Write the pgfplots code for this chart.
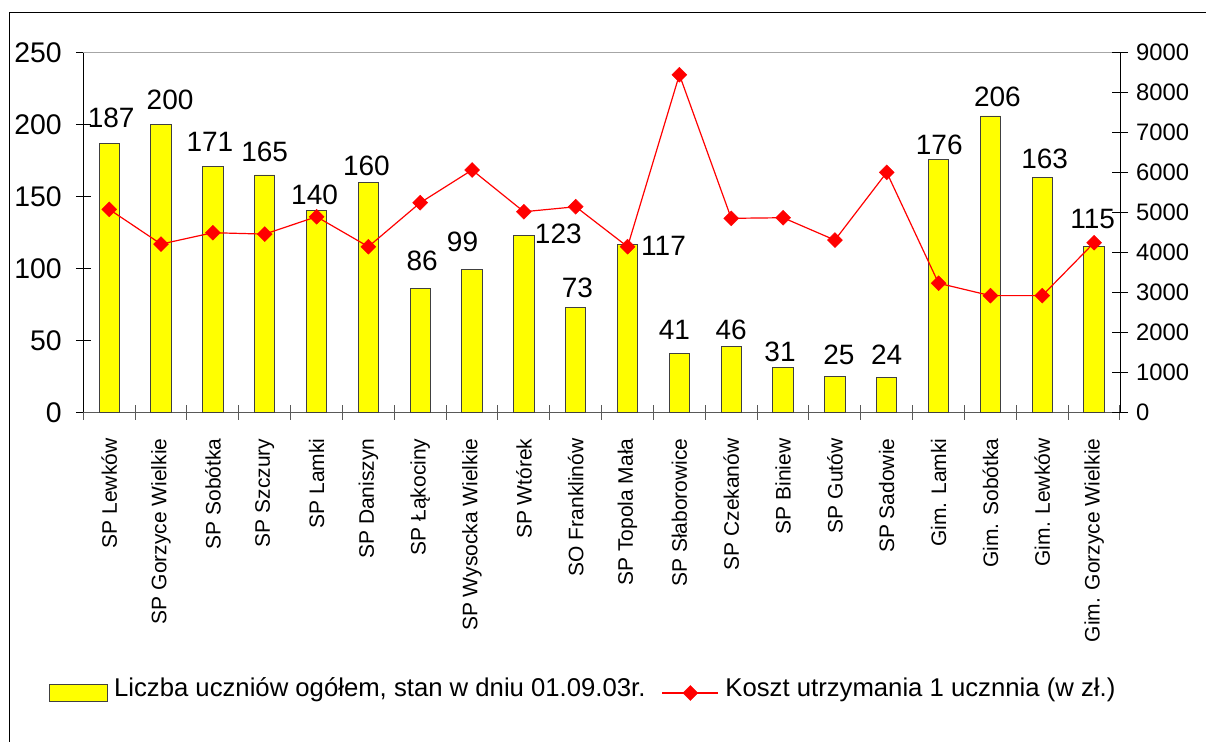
\documentclass[border=0pt]{standalone}
\usepackage{pgfplots}
\pgfplotsset{compat=1.18}
\usepackage{pgfplotstable}
\usepackage{fontspec}
\setmainfont{Liberation Sans}
\definecolor{baryellow}{RGB}{255,255,0}
\definecolor{linered}{RGB}{255,0,0}

\pgfplotstableread{
x y dx dy
1 187 2 14.7
2 200 9 14.3
3 171 -3 14.3
4 165 0 13
5 140 -2 5.7
6 160 -2 6
7 86 2 17.8
8 99 -9.5 18
9 123 34.4 -9
10 73 1.6 9
11 117 36 -12
12 41 -5 13
13 46 0 6
14 31 -3 5
15 25 4 11
16 24 0 12.7
17 176 0.7 4
18 206 7 9
19 163 2.4 9
20 115 -1.4 18
}\bars

\pgfplotstableread{
x y
1 5080
2 4210
3 4495
4 4460
5 4895
6 4145
7 5245
8 6065
9 5020
10 5145
11 4145
12 8450
13 4855
14 4870
15 4310
16 6005
17 3230
18 2920
19 2920
20 4245
}\cost

\pgfplotsset{linelegend/.style={legend image code/.code={\draw[mark repeat=2, mark phase=2, ##1] plot coordinates {(0pt,0pt) (28pt,0pt) (56pt,0pt)};}}}

\begin{document}
\begin{tikzpicture}[x=1pt,y=1pt]
\useasboundingbox (0,0) rectangle (1206,-742);
\fill[white] (0,0) rectangle (1206,-742);
\draw[black, line width=1pt] (1206,-12) -- (9.3,-12) -- (9.3,-742);
\begin{axis}[
  at={(83.3pt,-412.3pt)}, anchor=south west,
  scale only axis, width=1036.7pt, height=359.6pt,
  xmin=0.5, xmax=20.5, ymin=0, ymax=250,
  axis x line*=bottom, axis y line*=left,
  clip=false,
  /pgf/number format/assume math mode=true,
  /pgf/number format/1000 sep={},
  tick align=center, major tick length=15pt,
  ytick={0,50,...,250},
  y axis line style={black, line width=1pt},
  x axis line style={black!65, line width=1pt},
  ytick style={black, line width=1pt},
  xtick style={black!65, line width=1pt},
  yticklabel style={font=\fontsize{28.4}{30}\selectfont, anchor=east, inner sep=0pt, xshift=-13.9pt},
  xtick={0.5,1.5,...,20.5},
  xticklabel style={text opacity=0, font=\tiny},
  extra x ticks={1,2,...,20},
  extra x tick labels={SP Lewków, SP Gorzyce Wielkie, SP Sobótka, SP Szczury, SP Lamki, SP Daniszyn, SP Łąkociny, SP Wysocka Wielkie, SP Wtórek, SO Franklinów, SP Topola Mała, SP Słaborowice, SP Czekanów, SP Biniew, SP Gutów, SP Sadowie, Gim. Lamki, Gim. Sobótka, Gim. Lewków, Gim. Gorzyce Wielkie},
  extra x tick style={major tick length=0pt, tick style={draw=none},
    xticklabel style={text opacity=1, rotate=90, anchor=east, inner xsep=26pt, inner ysep=0pt, font=\fontsize{21}{24}\selectfont}},
  legend columns=2,
  legend style={at={(-0.0331,-0.7806)}, anchor=west, draw=none, fill=none,
    inner sep=0pt, outer sep=0pt,
    font=\fontsize{25.7}{28}\selectfont,
    nodes={inner xsep=6.5pt, inner ysep=0pt, text height=0.716em, text depth=0pt},
    cells={anchor=west},
    /tikz/every even column/.append style={column sep=9.7pt}},
]
\addplot[ybar, bar width=20.3pt, fill=baryellow, draw=black!75, line width=0.9pt,
  visualization depends on={\thisrow{dx}\as\labdx},
  visualization depends on={\thisrow{dy}\as\labdy},
  nodes near coords,
  every node near coord/.append style={font=\fontsize{28}{30}\selectfont, black, anchor=south, inner sep=0pt, xshift=\labdx pt, yshift=\labdy pt},
  legend image code/.code={\draw[fill=baryellow, draw=black!75, line width=0.9pt] (0pt,-8.85pt) rectangle (57.7pt,8.85pt);}
] table[x=x,y=y] {\bars};
\addlegendentry{Liczba uczniów ogółem, stan w dniu 01.09.03r.}
\addlegendimage{linered, line width=1.2pt, mark=square*, mark size=5.3pt, mark options={solid, rotate=45, fill=linered, draw=linered, line width=0.4pt}, linelegend}
\addlegendentry{Koszt utrzymania 1 ucznnia (w zł.)}
\draw[black!35, line width=1pt] (rel axis cs:0,1) -- (rel axis cs:1,1);
\end{axis}
\begin{axis}[
  at={(83.3pt,-412.3pt)}, anchor=south west,
  scale only axis, width=1036.7pt, height=359.6pt,
  xmin=0.5, xmax=20.5, ymin=0, ymax=9000,
  axis y line*=right, axis x line=none,
  clip=false,
  /pgf/number format/assume math mode=true,
  /pgf/number format/1000 sep={},
  scaled y ticks=false,
  tick align=center, major tick length=16pt,
  ytick={0,1000,...,9000},
  y axis line style={black, line width=1pt},
  ytick style={black, line width=1pt},
  yticklabel style={font=\fontsize{23.8}{26}\selectfont, anchor=west, inner sep=0pt, xshift=8pt},
]
\addplot[linered, line width=1.2pt, mark=square*, mark size=5.3pt,
  mark options={solid, rotate=45, fill=linered, draw=linered, line width=0.4pt}]
  table[x=x,y=y] {\cost};
\end{axis}
\end{tikzpicture}
\end{document}
